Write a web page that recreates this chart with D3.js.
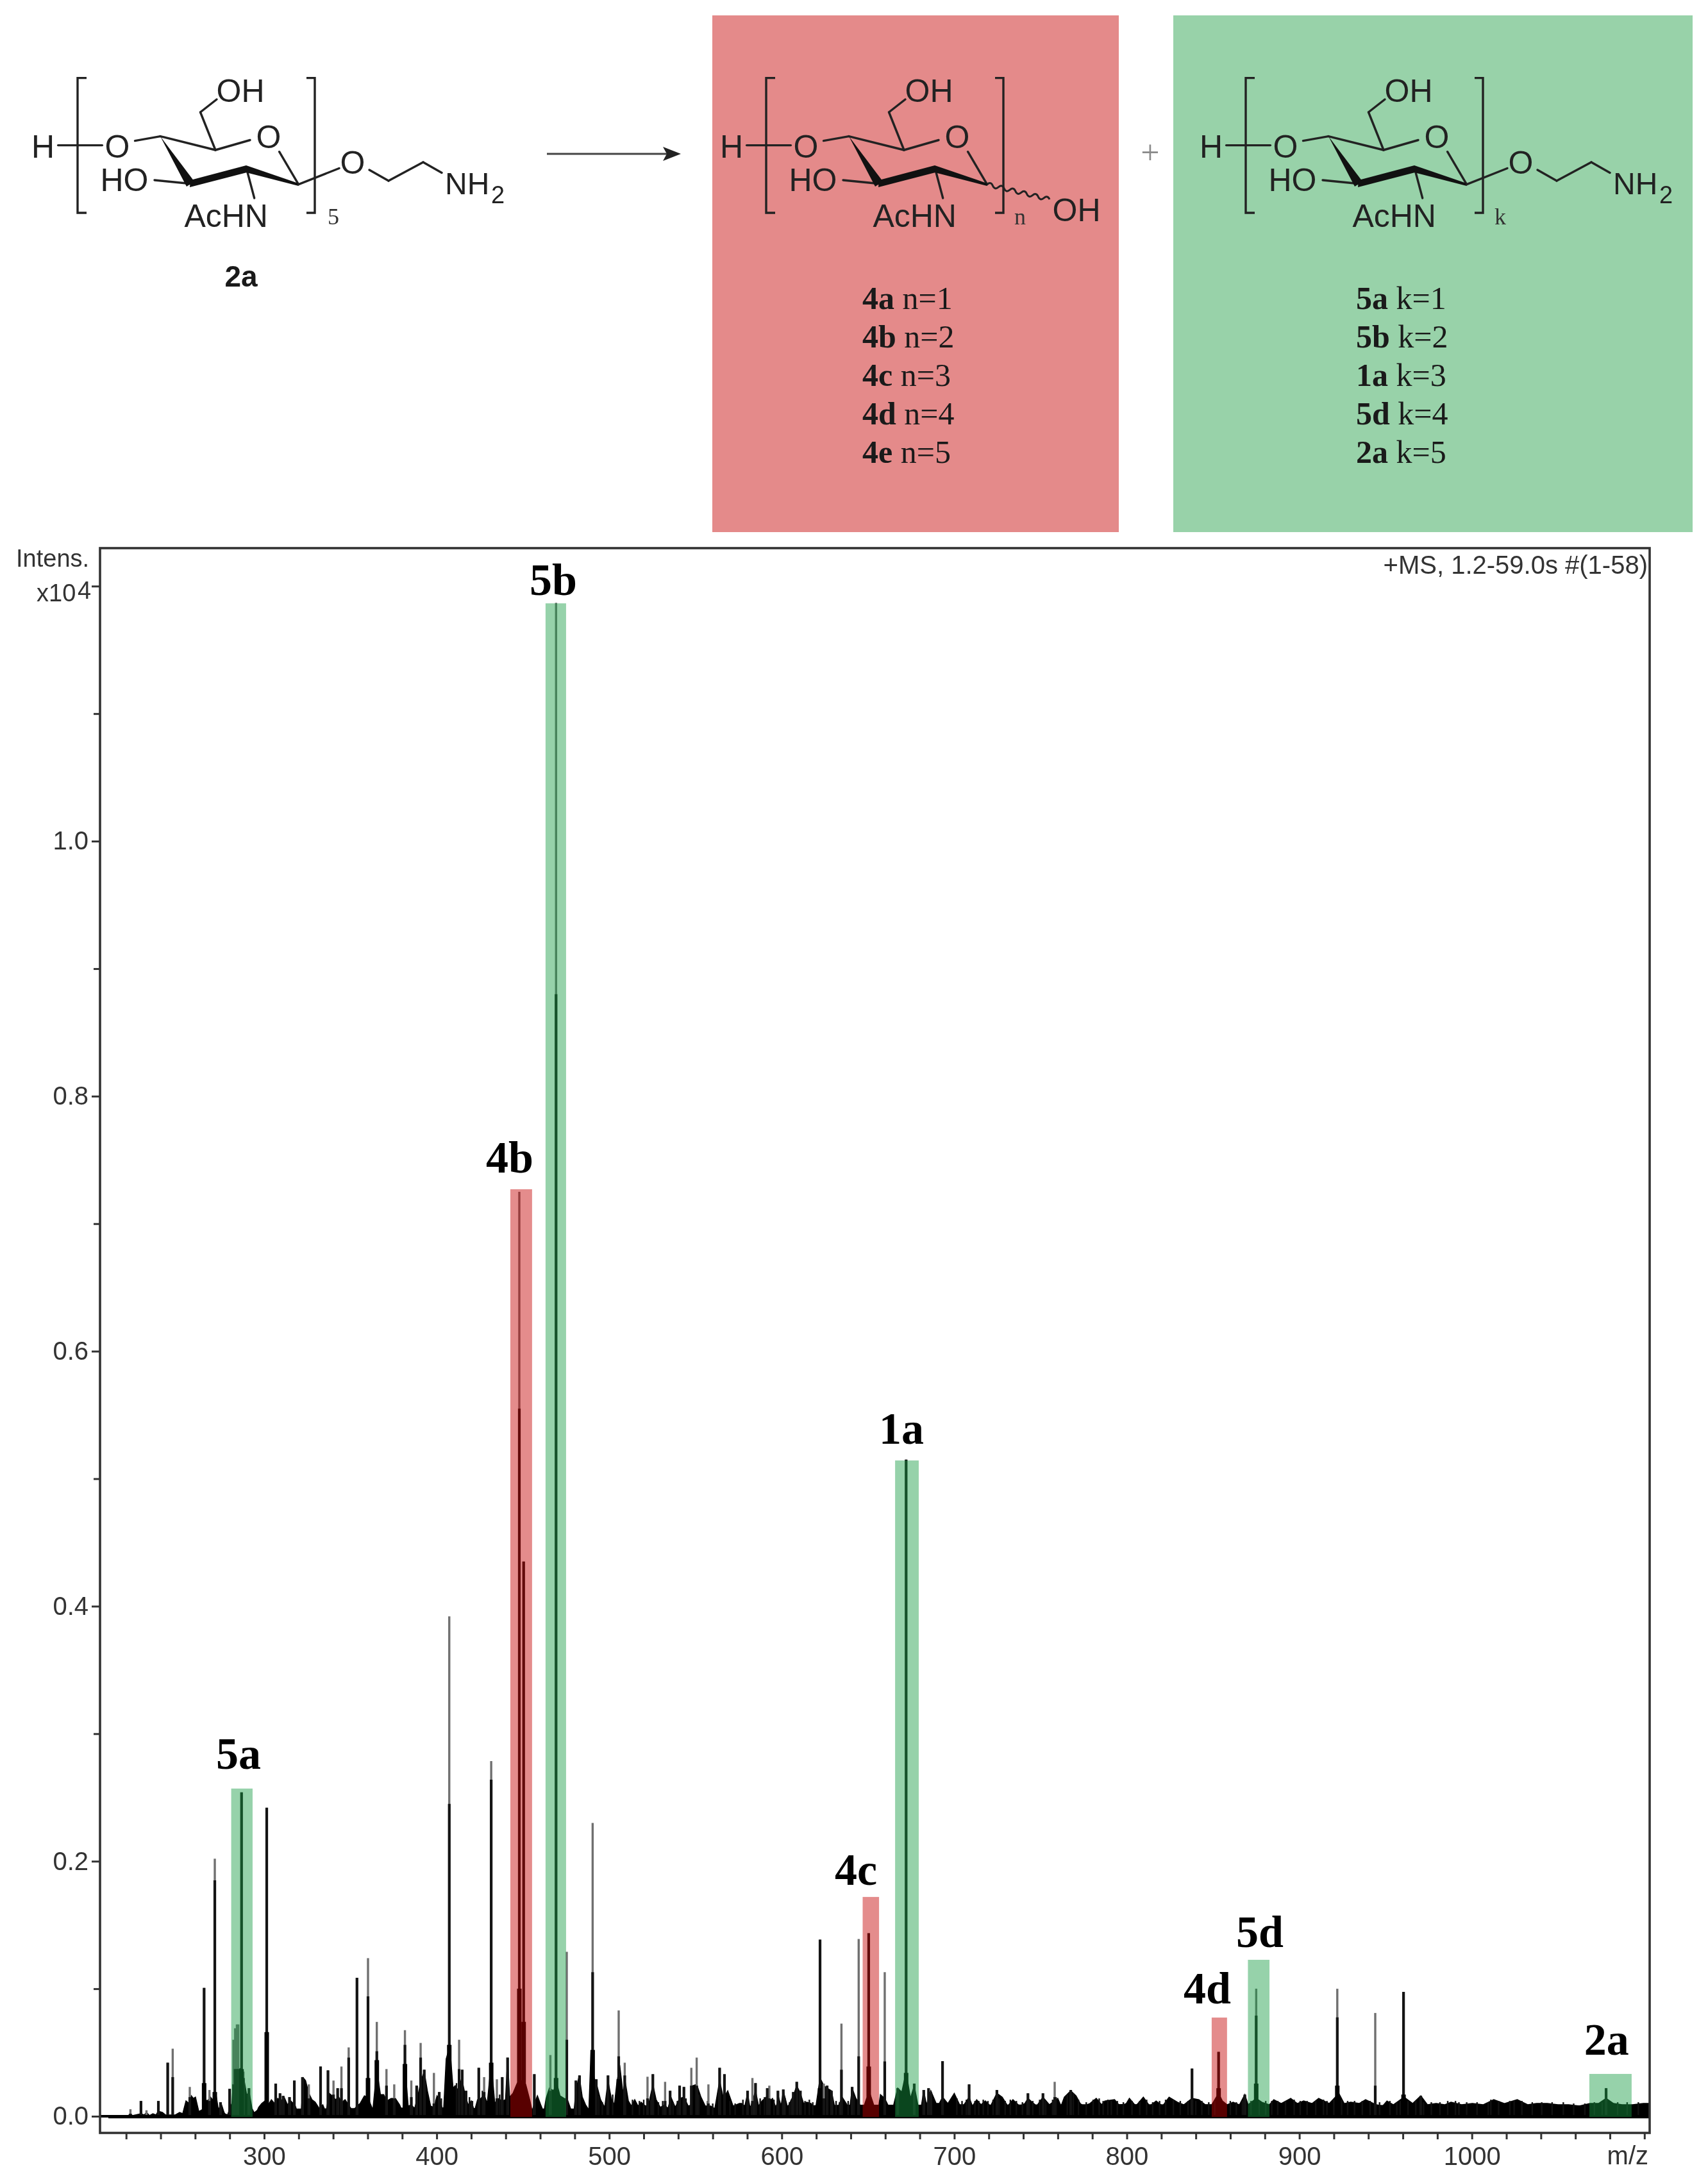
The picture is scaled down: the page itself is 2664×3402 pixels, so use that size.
<!DOCTYPE html>
<html><head><meta charset="utf-8">
<script src="https://cdn.jsdelivr.net/npm/d3@7"></script>
<style>
html,body{margin:0;padding:0;background:#fff}
svg{display:block;filter:blur(0.7px)}
text{font-family:"Liberation Sans",Arial,sans-serif}
.serif{font-family:"Liberation Serif","Times New Roman",serif}
</style></head><body>
<svg id="c" width="2664" height="3402"></svg>
<script>
// ---- chart data (intensity in units of 10^4 / 1000, i.e. 100 = 0.1 x10^4) ----
const xTickValues = d3.range(220, 1101, 20);
const xTickLabels = [300,400,500,600,700,800,900,1000];
const yTickValues = [0,0.1,0.2,0.3,0.4,0.5,0.6,0.7,0.8,0.9,1.0,1.1,1.2];
const yTickLabels = [0,0.2,0.4,0.6,0.8,1.0];

// background envelope: [m/z, height]
const noiseA = [[210,.5],[221.2,.5],[222.5,2],[223.7,.5],[228.6,2],[230.5,1],[231.8,3],[233.6,.5],[235.5,2],[237.3,1],[238.6,4],[241,3],[242.9,1],[246,1],[248.5,1],[251,3],[252.8,2],[254.7,12],[256.5,10],[257.8,16],[259,14],[260.2,15],[262.1,4],[264,.5],[265.2,14],[267,12],[268.9,15],[270.8,12],[272,18],[273.5,5],[275.1,10],[277,2],[278.8,1],[280,6],[281.3,10],[282.2,30],[283.2,37],[284.4,37],[285.6,37],[286.9,38],[288.7,26],[290,16],[291.2,20],[293,6],[294.9,1],[296.8,7],[298.6,10],[300.5,12],[302.4,9],[304.2,13],[306.1,10],[307.9,14],[309.8,12],[311.6,15],[313.5,9],[315.4,12],[317.8,9],[319.7,2],[321.6,6],[322.8,30],[324,28],[325.9,18],[327.7,13],[329.6,11],[332,6],[334,9],[335.8,3],[337.7,18],[339.5,16],[341.4,13],[343.2,15],[345.1,11],[346.9,13],[349.4,8],[351.3,4],[353.8,8],[355.6,10],[358.1,16],[360,15],[363,5],[365.3,37],[367.4,17],[369.3,17],[371.1,12],[373.6,14],[376.1,14],[378.5,9],[380.4,3],[381.6,40],[383.5,8],[385.3,9],[387.2,6],[389.1,16],[390.9,28],[392.8,35]];
const noiseB = [[394.6,20],[396.5,8],[398.4,7],[400.2,16],[402.1,12],[403.9,2],[405.5,45],[407.6,55],[409.5,22],[410.7,24],[412.6,20],[414.5,30],[416.3,18],[418.2,9],[420,12],[421.9,4],[423.7,13],[425.6,14],[427.5,17],[429.3,10],[431.6,42],[433.7,10],[435.5,14],[438,12],[439.9,13],[441.1,45],[442.3,15],[444.2,18],[446.7,26],[449.1,28],[451.6,25],[454.1,12],[455.3,4],[456.6,10],[458.4,16],[460.3,9],[462.1,3],[463.4,14],[465.3,22],[467.7,20],[469.6,26],[471.5,16],[473.9,14],[475.8,13],[477.6,6],[479.5,3],[480.7,20],[482.6,32],[484.4,15],[486.3,9],[488.2,5],[489.4,50],[491.3,30],[492.7,25],[495,13],[497.4,7],[499.3,28],[501.2,14],[503,9],[504.3,25],[506.1,40],[508,18],[509.2,28],[511.1,12],[512.9,8],[514.8,13],[516.7,8],[518.5,11],[521,8],[522.8,9],[525.3,25],[527.2,13],[529.6,7],[532.1,9],[534,6],[535.8,15],[538.3,7],[540.8,14],[543.3,15],[545.8,8],[547.6,9],[548.5,24],[550.7,25],[553.2,15],[555.7,8],[558.8,8],[561.2,6],[564,28],[566.2,14],[568.7,20],[571.8,8],[575.5,10]];
const noiseC = [[576.7,10],[578.6,8],[580.2,18],[581.7,6],[584.8,20],[586.6,8],[588.5,12],[591,15],[592.8,12],[594.7,14],[596.5,7],[598.4,14],[599.6,8],[600.9,20],[603.4,7],[606.7,16],[608.7,24],[610.8,18],[612.7,10],[614.5,11],[617,10],[619.5,5],[622.2,30],[624.4,24],[626.3,22],[628.8,20],[630.6,8],[632.5,7],[635,15],[637.4,10],[639.3,5],[640.8,22],[643,14],[644.9,10],[646.7,4],[649.2,14],[651.1,18],[653.5,8],[656,6],[657.2,17],[659.7,14],[662.2,7],[664.7,8],[667.2,22],[669.6,19],[672.1,35],[674.6,14],[676.8,24],[678.9,9],[680.8,7],[682.3,20],[683.9,9],[686.4,20],[689.5,10],[691.3,10],[693.2,15],[696.3,10],[700,18],[703.1,9],[705.6,9],[708.6,15],[710.5,8],[713,13],[715.5,9],[718,12],[721,8],[724.7,18],[727.8,15],[731,8],[734,13],[737.8,8],[740.9,10],[742.7,14],[747.7,8],[751.4,15],[755.1,9]];
const noiseD = [[760,14],[761.9,8],[763.8,15],[767.5,20],[770.6,16],[773,10],[774.9,8],[778.6,10],[782.3,14],[785.4,9],[787.3,12],[792.9,13],[796,8],[799.7,10],[801.5,14],[805.2,8],[809.6,15],[813.3,8],[817,12],[820.7,8],[824.5,15],[829.4,11],[833.1,9],[837.8,14],[841.8,13],[845.5,9],[849.2,9],[853.2,18],[855.4,12],[858.1,9],[861.6,11],[865.3,9],[868.4,17],[870.3,9],[875,14],[878.3,11],[882.7,9],[885.2,13],[889.5,10],[895,14],[898.8,10],[902.5,12],[907.4,10],[911.2,14],[917.4,10],[922.9,18],[926,10],[929.8,11],[934.7,10],[938.4,13],[944.6,9],[948.3,8],[950.8,12],[954.5,9],[960.7,15],[965.7,10],[970.4,16],[974.3,9],[979.3,10],[984.2,9],[987.9,11],[994.1,9],[1000.3,10],[1006.5,9],[1012.7,13],[1018.9,10],[1026.3,13],[1032.5,9],[1037.5,10],[1043.7,10],[1049.9,9],[1056.1,9],[1062.3,8],[1068.5,10],[1073.4,10],[1077.8,14],[1082.1,10],[1087,9],[1093.2,9],[1099.4,10],[1102.5,10]];

// solid black floor of the trace: [m/z, height]
const floorLine = [[254,2],[262,4],[266,7],[276,5],[278,1],[293,2],[296,5],[320,6],[400,7],[440,6],[500,6],[560,6],[575,8],[640,9],[700,9],[800,9.5],[900,9],[1000,8.5],[1103,8.5]];

// fine hairs on top of the trace: [m/z, height]
const hairs = [[402.7,14],[411.5,26],[419,15],[426.5,20],[436.5,17],[494,16],[496,11],[502,17],[513.5,13],[517.5,12],[520,13],[524,13],[528.5,11],[531,12],[537,11],[539.5,12],[544.5,14],[552,17],[557,12],[560,10],[570,12],[573,10],[577.5,13],[583.5,13],[587.5,14],[590,15],[595.5,13],[597.5,12],[602,14],[604.5,11],[605.5,13],[613.5,12],[616,13],[618,11],[629.5,14],[631.5,12],[633.5,11],[638.5,12],[642,16],
  [701.5,14],[704.5,12],[707,13],[712,12],[714.2,12],[716.8,13],[719.5,12],[722.5,13],[726,14],[729.5,12],[732.5,13],[736,12],[739.5,11],[743.5,13],[745.5,12],[749.5,13],[753,12],[757,13],[759,15],[765.5,17],[769,18],[772,13],[776.5,11],[780.5,13],[784,14],[786.3,12],[789,13],[791,12],[794.5,12],[798,11],[803,12],[807.5,12],[811.5,13],[815,11],[819,12],[822.5,13],[827,13],[831,12],[835.5,12],[840,12],[843.5,12],[847.5,11],[851,12],[860,12],[863.5,11],[867,12],[872,12],[876.7,12],[880.5,12],[884,12],[887.5,12],[892,12],[897,13],[900.5,12],[904.5,12],[909.5,12],[914,13],[916,12],[920,13],[924.5,13],[928,12],[932,12],[936.5,12],[941,12],[946.5,11],[952.5,12],[956.5,11],[958.5,12],[963,12],[967.5,12],[972,11],[976.5,11],[981.5,11],[986,12],[990.5,12],[992.5,11],[997,11],[1003,11],[1009.5,11],[1011,13],[1015.5,12],[1022,12],[1024.5,12],[1029,12],[1035,11],[1040.5,11],[1046.5,11],[1053,11],[1059,10],[1065.5,10],[1071,11],[1075.5,11],[1084.5,11],[1090,11],[1096.5,11]];

// peaks: [m/z, tip height, height of dark part, height of thick foot]
const peaksLow = [[222.5,5.5,2,0],[228.6,12,12,0],[231.8,4.7,1,0],[238.7,12,12,0],[244.1,42,42,0],[247,53,30.7,0],[256.9,23,15,0],[265.2,100.7,100.7,26],[268.3,20.6,12,0],[271.4,202,185,19],[274.7,11,11,0],[280,21.5,21.5,0],[282.2,60,25,0],[283.2,69,37,0],[284.2,72,37,0],[285,72,37,0],[286.9,254,254,37],[288,35,30,0],[291.2,22,22,0],[301.5,242,242,66],[306.7,25.6,25.6,0],[309.2,18,18,0],[311,16,16,0],[314.7,15,15,0],[317.5,28,28,0],[322.2,30.7,30.7,0],[325.9,25,14,0],[332.7,39,39,0],[337,36,36,0],[340.2,28,17,0],[342.6,22,22,0],[344.8,39,22,0],[349,54,46,0],[353.8,108.6,108.6,0],[360.2,124,94,30],[365.3,74,51,44],[370.9,37,24,0],[375.4,25,14,0],[381.6,67.5,56,41],[385.3,28,15,0],[388.4,24,24,0],[390.7,57.5,46,0],[392.8,36.5,36.5,0]];
const peaksMid = [[398.4,34,10,0],[401.5,19,19,0],[407.3,392,245,56],[413,60,37,0],[414.8,36.5,36.5,0],[417,20,20,0],[420.4,12,12,0],[424.4,38,38,0],[427.5,30.7,19,0],[431.6,278.5,264,42],[434.9,29,14,0],[438,30.7,30.7,0],[441.1,46,46,0],[447.9,725,555,100],[450.4,435,435,74],[456.6,33,33,0],[465.9,48,20,0],[469.2,1187,880,30],[475.4,129,60,0],[480.7,28,28,0],[482.8,32,32,0],[490.4,230,113,52],[492.5,29,29,0],[499.3,32,32,0],[505.5,83,47,29],[509,42,32,0],[522.2,31,14,0],[525.3,33,33,0],[532.4,27,12,0],[535.3,20,20,0],[540.8,24,24,0],[543.3,23,23,0],[547.6,38,24,0],[550.7,46,24,0],[557.5,25,10,0],[564,38,38,0],[566.8,33,33,0]];
const peaksHigh = [[580.2,20,20,0],[583,30,12,0],[584.8,26,26,0],[591.6,22,22,0],[592.8,24,14,0],[597.8,20,20,0],[600.9,21,21,0],[606.7,19,19,0],[608.7,27,27,0],[610.8,20,20,0],[622.2,138.5,138.5,22],[624.4,25.6,14,0],[626.3,24,24,0],[628.8,20,20,0],[634.6,72.6,36.5,0],[640.8,23,23,0],[644.6,139,47,0],[650.4,143.5,143.5,39],[659.7,113,43,0],[667.2,22,22,0],[672.1,515,515,34],[676.8,25.6,25.6,0],[682.3,20.6,20.6,0],[685.1,22,22,0],[686.4,19,19,0],[693.2,43.2,43.2,0],[708.6,25,25,0],[724.7,20.6,20.6,0],[742.7,18,18,0],[751.4,18,18,0],[758.2,27,15,0],[767.5,20.6,20.6,0],[837.8,37.4,37.4,0],[853.2,50.5,50.5,22],[868.4,17,17,0],[875,100,79,25.6],[922,100,77.6,24],[944,81,24,0],[960.4,97.5,97.5,17],[970.4,16,16,0],[1077.8,22,22,0]];

// highlighted compounds
const hlNames = ["5a","4b","5b","4c","1a","4d","5d","2a"];
const hlClass = ["k","n","k","n","k","n","k","k"];
const hlLo    = [280.9,442.7,463.1,646.9,665.7,849.2,870.2,1068.1];
const hlHi    = [293.3,455.3,475.0,656.4,679.4,858.1,882.7,1092.6];
const hlTop   = [0.257,0.727,1.1865,0.172,0.5143,0.0774,0.1227,0.0332];
const lblMz   = [285.1,442.3,467.6,643.0,669.4,846.6,877.1,1078.1];
const lblI    = [0.2725,0.740,1.193,0.1817,0.5274,0.0885,0.1327,0.0483];

// compound lists in the boxes
const listN = ["4a","4b","4c","4d","4e"];
const listK = ["5a","5b","1a","5d","2a"];
const listCount = [1,2,3,4,5];

// ---- layout ----
const svg = d3.select("#c");
const frame = {l:156, r:2573, t:855, b:3327};
const x = d3.scaleLinear().domain([204.87,1103.05]).range([frame.l,frame.r]);
const y = d3.scaleLinear().domain([-0.01307,1.2298]).range([frame.b,frame.t]);
const boxRed = {x:1111,y:24,w:634,h:806};
const boxGreen = {x:1830,y:24,w:810,h:806};
const COLORS = {g:"rgb(22,155,67)", r:"rgb(196,0,0)", boxR:"#e48a8a", boxG:"#98d2a9", ink:"#222", axis:"#333"};

// ---- reaction scheme ----
svg.append("rect").attr("x",boxRed.x).attr("y",boxRed.y).attr("width",boxRed.w).attr("height",boxRed.h).attr("fill",COLORS.boxR);
svg.append("rect").attr("x",boxGreen.x).attr("y",boxGreen.y).attr("width",boxGreen.w).attr("height",boxGreen.h).attr("fill",COLORS.boxG);

function lab(g,s,cx,cy,size,opt={}){
  return g.append("text").attr("x",cx).attr("y",cy).attr("dy",".358em").attr("text-anchor",opt.anchor||"middle")
    .attr("font-size",size).attr("font-weight",opt.bold?"bold":null).attr("fill",opt.fill||COLORS.ink)
    .attr("class",opt.serif?"serif":null).text(s);
}
function unit(dx, sub, tail){
  const g = svg.append("g").attr("transform",`translate(${dx},0)`);
  const bonds = [[90.6,226.6,159.4,226.6],[210.5,219.6,250,212.6],[250,212.6,336,234],[336,234,390,218.5],[435.6,236.7,465.6,287.6],
    [241,281,296.6,286.5],[384.6,263.5,396.7,309],[336,234,312.5,175],[312.5,175,338,155]];
  bonds.forEach(b=>g.append("line").attr("x1",b[0]).attr("y1",b[1]).attr("x2",b[2]).attr("y2",b[3]).attr("stroke",COLORS.ink).attr("stroke-width",3.4).attr("stroke-linecap","round"));
  // wedge and bold bonds
  ["250,212.6 291,291 303,283","296,292 297,281 384,258 385,269","384,258 384,269 465.6,290 465.6,286"].forEach(p=>
    g.append("polygon").attr("points",p).attr("fill","#111"));
  // brackets
  g.append("path").attr("d","M135,121.6H121V332H135").attr("fill","none").attr("stroke",COLORS.ink).attr("stroke-width",3.4);
  g.append("path").attr("d","M478,121.6H491V332H478").attr("fill","none").attr("stroke",COLORS.ink).attr("stroke-width",3.4);
  lab(g,"H",67,228,50); lab(g,"O",183,228,50); lab(g,"O",419,213,50); lab(g,"HO",194,280,50);
  lab(g,"AcHN",352.7,336,50); lab(g,"OH",375,141,50);
  lab(g,sub,sub==="5"?520:(sub==="n"?517:518),337,36,{serif:true,fill:"#333"});
  if(tail){
    [[465.6,287.6,529,262.5],[576,265,606,282],[606,282,660,253],[660,253,689,269.4]].forEach(b=>
      g.append("line").attr("x1",b[0]).attr("y1",b[1]).attr("x2",b[2]).attr("y2",b[3]).attr("stroke",COLORS.ink).attr("stroke-width",3.4).attr("stroke-linecap","round"));
    lab(g,"O",550,253,50);
    lab(g,"NH",694,286,48,{anchor:"start"});
    lab(g,"2",766,303,38,{anchor:"start"});
  }
  return g;
}
unit(0,"5",true);
const gn = unit(1074,"n",false);
unit(1822,"k",true);
// anomeric wavy bond
{
  const p0=[465.6,287.6], p1=[563,311], waves=11; let d=`M${p0[0]},${p0[1]}`;
  for(let i=0;i<waves;i++){
    const a=(i+.5)/waves,b=(i+1)/waves,s=i%2?6:-6;
    d+=`Q${p0[0]+(p1[0]-p0[0])*a-s*.24},${p0[1]+(p1[1]-p0[1])*a+s} ${p0[0]+(p1[0]-p0[0])*b},${p0[1]+(p1[1]-p0[1])*b}`;
  }
  gn.append("path").attr("d",d).attr("fill","none").attr("stroke",COLORS.ink).attr("stroke-width",3);
  lab(gn,"OH",605,327,50);
}
// arrow
svg.append("line").attr("x1",853).attr("y1",240).attr("x2",1045).attr("y2",240).attr("stroke","#444").attr("stroke-width",3);
svg.append("polygon").attr("points","1062,240 1034,229 1040,240 1034,251").attr("fill","#222");
lab(svg,"+",1794,236,52,{serif:true,fill:"#8a8a8a"});
lab(svg,"2a",376,431,46,{bold:true,fill:"#1a1a1a"});

function list(names, cx0, sym){
  names.forEach((nm,i)=>{
    const t = svg.append("text").attr("class","serif").attr("x",cx0).attr("y",465+i*60).attr("dy",".34em").attr("font-size",50).attr("fill","#1a1a1a");
    t.append("tspan").attr("font-weight","bold").text(nm);
    t.append("tspan").text(` ${sym}=${listCount[i]}`);
  });
}
list(listN,1345,"n");
list(listK,2115,"k");

// ---- spectrum ----
const plot = svg.append("g");
const noise = [...noiseA,...noiseB,...noiseC,...noiseD];
const area = d3.area().x(d=>x(d[0])).y0(y(-0.0012)).y1(d=>y(d[1]/1000)).curve(d3.curveLinear);
plot.append("path").attr("d",area(noise)).attr("fill","#000").attr("stroke","#000").attr("stroke-width",1.5);
plot.append("path").attr("d",area(floorLine)).attr("fill","#000");
plot.append("g").selectAll("line").data(hairs).join("line")
  .attr("x1",d=>x(d[0])).attr("x2",d=>x(d[0])).attr("y1",y(0)).attr("y2",d=>y(d[1]/1000))
  .attr("stroke","#111").attr("stroke-width",2.4);
const peaks = [...peaksLow,...peaksMid,...peaksHigh];
plot.append("g").selectAll("line").data(peaks).join("line")
  .attr("x1",d=>x(d[0])).attr("x2",d=>x(d[0])).attr("y1",y(0)).attr("y2",d=>y(d[1]/1000))
  .attr("stroke","#707070").attr("stroke-width",3.4);
plot.append("g").selectAll("line").data(peaks).join("line")
  .attr("x1",d=>x(d[0])).attr("x2",d=>x(d[0])).attr("y1",y(0)).attr("y2",d=>y(d[2]/1000))
  .attr("stroke","#141414").attr("stroke-width",4.2);
plot.append("g").selectAll("line").data(peaks.filter(d=>d[3]>0)).join("line")
  .attr("x1",d=>x(d[0])).attr("x2",d=>x(d[0])).attr("y1",y(0)).attr("y2",d=>y(d[3]/1000))
  .attr("stroke","#000").attr("stroke-width",7);
plot.append("line").attr("x1",frame.l).attr("x2",frame.r).attr("y1",y(0)).attr("y2",y(0)).attr("stroke","#000").attr("stroke-width",4);

// highlight bands
plot.append("g").selectAll("rect").data(hlNames).join("rect")
  .attr("x",(d,i)=>x(hlLo[i])).attr("width",(d,i)=>x(hlHi[i])-x(hlLo[i]))
  .attr("y",(d,i)=>y(hlTop[i])).attr("height",(d,i)=>y(-0.0005)-y(hlTop[i]))
  .attr("fill",(d,i)=>hlClass[i]==="k"?COLORS.g:COLORS.r).attr("fill-opacity",0.45);
plot.append("g").selectAll("text").data(hlNames).join("text").attr("class","serif")
  .attr("x",(d,i)=>x(lblMz[i])).attr("y",(d,i)=>y(lblI[i])).attr("text-anchor","middle")
  .attr("font-size",70).attr("font-weight","bold").attr("fill","#000").text(d=>d);

// frame + axes
svg.append("rect").attr("x",frame.l).attr("y",frame.t).attr("width",frame.r-frame.l).attr("height",frame.b-frame.t)
  .attr("fill","none").attr("stroke",COLORS.axis).attr("stroke-width",3.6);
const xAxis = d3.axisBottom(x).tickValues(xTickValues).tickSize(10).tickPadding(12)
  .tickFormat(d=>xTickLabels.includes(d)?d:"");
const yAxis = d3.axisLeft(y).tickValues(yTickValues).tickSize(10).tickPadding(8)
  .tickFormat(d=>yTickLabels.includes(d)?d3.format(".1f")(d):"");
const gx = svg.append("g").attr("transform",`translate(0,${frame.b})`).call(xAxis);
const gy = svg.append("g").attr("transform",`translate(${frame.l},0)`).call(yAxis);
[gx,gy].forEach(g=>{
  g.select(".domain").remove();
  g.selectAll(".tick line").attr("stroke",COLORS.axis).attr("stroke-width",3);
  g.selectAll(".tick text").attr("font-family","Liberation Sans").attr("font-size",40).attr("fill","#333");
});
gy.selectAll(".tick line").attr("x2",(d)=>(Math.round(d*10)%2===0)?-13:-10);
gy.selectAll(".tick text").attr("x",-18);

// corner text
const T = (s,xp,yp,size,anchor)=>svg.append("text").attr("x",xp).attr("y",yp).attr("font-size",size)
  .attr("text-anchor",anchor||"start").attr("fill","#333").text(s);
T("Intens.",25,884,38);
T("x10",57,938,38);
T("4",121,934,38);
T("+MS, 1.2-59.0s #(1-58)",2570,895,40,"end");
T("m/z",2571,3376,40,"end");
</script></body></html>
